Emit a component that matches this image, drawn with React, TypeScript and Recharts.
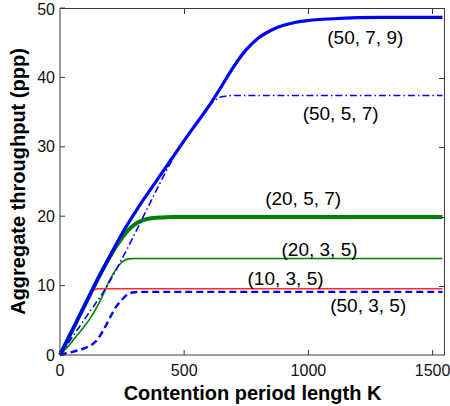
import { LineChart, Line, XAxis, YAxis, ReferenceDot } from "recharts";

// contention period length K (shared x grid for every curve)
const contentionK = [
  0, 25, 50, 75, 100, 125, 150, 175, 200, 225, 250, 275, 300, 325, 350, 400, 450,
  500, 550, 600, 650, 700, 750, 800, 850, 900, 950, 1000, 1100, 1200, 1300, 1400, 1540,
];

// aggregate throughput (ppp) per configuration
const tput50_7_9 = [
  0, 1.8, 3.6, 5.4, 7.2, 9.0, 10.8, 12.5, 14.2, 15.9, 17.5, 19.0, 20.4, 21.8, 23.1, 25.7, 28.3,
  30.9, 33.4, 35.9, 38.7, 41.6, 44.0, 45.7, 46.8, 47.5, 47.95, 48.2, 48.45, 48.6, 48.65, 48.65, 48.65,
];
const tput50_5_7 = [
  0, 1.3, 2.6, 3.9, 5.2, 6.5, 7.8, 9.1, 10.6, 12.2, 13.9, 15.6, 17.4, 19.2, 21.0, 24.6, 28.0,
  30.9, 33.4, 35.9, 37.2, 37.4, 37.4, 37.4, 37.4, 37.4, 37.4, 37.4, 37.4, 37.4, 37.4, 37.4, 37.4,
];
const tput20_5_7 = [
  0, 1.8, 3.6, 5.4, 7.2, 9.0, 10.8, 12.5, 14.1, 15.6, 16.9, 18.0, 18.8, 19.3, 19.6, 19.8, 19.9,
  19.9, 19.9, 19.9, 19.9, 19.9, 19.9, 19.9, 19.9, 19.9, 19.9, 19.9, 19.9, 19.9, 19.9, 19.9, 19.9,
];
const tput20_3_5 = [
  0, 0.95, 2.0, 3.1, 4.2, 5.5, 7.0, 8.8, 10.8, 12.3, 13.4, 13.85, 13.9, 13.9, 13.9, 13.9, 13.9,
  13.9, 13.9, 13.9, 13.9, 13.9, 13.9, 13.9, 13.9, 13.9, 13.9, 13.9, 13.9, 13.9, 13.9, 13.9, 13.9,
];
const tput10_3_5 = [
  0, 1.8, 3.6, 5.4, 7.2, 9.0, 9.55, 9.55, 9.55, 9.55, 9.55, 9.55, 9.55, 9.55, 9.55, 9.55, 9.55,
  9.55, 9.55, 9.55, 9.55, 9.55, 9.55, 9.55, 9.55, 9.55, 9.55, 9.55, 9.55, 9.55, 9.55, 9.55, 9.55,
];
const tput50_3_5 = [
  0, 0.25, 0.45, 0.7, 1.0, 1.4, 2.2, 3.6, 5.3, 6.9, 8.0, 8.8, 9.05, 9.1, 9.1, 9.1, 9.1,
  9.1, 9.1, 9.1, 9.1, 9.1, 9.1, 9.1, 9.1, 9.1, 9.1, 9.1, 9.1, 9.1, 9.1, 9.1, 9.1,
];

// curve annotations, anchored in data units
const curveLabels = ["(50, 7, 9)", "(50, 5, 7)", "(20, 5, 7)", "(20, 3, 5)", "(10, 3, 5)", "(50, 3, 5)"];
const curveLabelK = [1229, 1130, 979, 1045, 908, 1241];
const curveLabelY = [45.75, 34.9, 22.6, 15.2, 11.1, 7.1];

const xTicks = [0, 500, 1000, 1500];
const yTicks = [0, 10, 20, 30, 40, 50];
const X_MAX = 1550;
const Y_MAX = 50;

const FONT = '"Liberation Sans", Arial, Helvetica, sans-serif';
const AXIS = "#3a3a3a";

// plot box inside the 450x406 chart
const PLOT = { left: 60, top: 8, width: 385, height: 347 };

const rows = contentionK.map((k, i) => ({
  k,
  a: tput50_7_9[i],
  b: tput50_5_7[i],
  c: tput20_5_7[i],
  d: tput20_3_5[i],
  e: tput10_3_5[i],
  f: tput50_3_5[i],
}));

const YTitle = ({ viewBox }: any) => {
  const cx = 17.5;
  const cy = viewBox.y + viewBox.height / 2;
  return (
    <text
      x={cx}
      y={cy}
      transform={`rotate(-90, ${cx}, ${cy})`}
      textAnchor="middle"
      dominantBaseline="central"
      fontFamily={FONT}
      fontSize={20}
      fontWeight="bold"
      fill="#000"
    >
      Aggregate throughput (ppp)
    </text>
  );
};

const XTitle = ({ viewBox }: any) => (
  <text
    x={viewBox.x + viewBox.width / 2}
    y={viewBox.y + 44.5}
    textAnchor="middle"
    fontFamily={FONT}
    fontSize={20}
    fontWeight="bold"
    fill="#000"
  >
    Contention period length K
  </text>
);

// top and right sides of the matlab-style box, with inward ticks
const FrameOverlay = () => (
  <div
    style={{
      position: "absolute",
      left: PLOT.left,
      top: PLOT.top,
      width: PLOT.width,
      height: PLOT.height,
      boxSizing: "border-box",
      borderTop: `1px solid ${AXIS}`,
      borderRight: `1px solid ${AXIS}`,
      pointerEvents: "none",
    }}
  >
    {xTicks.slice(1).map((t) => (
      <div
        key={`tx${t}`}
        style={{ position: "absolute", left: (t / X_MAX) * PLOT.width - 0.5, top: 0, width: 1, height: 5, background: AXIS }}
      />
    ))}
    {yTicks.slice(1, -1).map((t) => (
      <div
        key={`ty${t}`}
        style={{ position: "absolute", right: 0, top: (1 - t / Y_MAX) * PLOT.height - 0.5, width: 5, height: 1, background: AXIS }}
      />
    ))}
  </div>
);

export default function App() {
  const tickFont = { fontSize: 16, fill: "#111", fontFamily: FONT };
  return (
    <div style={{ position: "absolute", left: 0, top: 0, width: 450, height: 406, background: "#fff" }}>
      <LineChart width={450} height={406} data={rows} margin={{ top: 8, right: 5, bottom: 0, left: 0 }}>
        {/* main axes: labels outside, tick marks pointing in (negative size) */}
        <XAxis
          dataKey="k"
          type="number"
          domain={[0, X_MAX]}
          ticks={xTicks}
          height={51}
          tickSize={-5}
          tickMargin={15}
          tickLine={{ stroke: AXIS }}
          axisLine={{ stroke: AXIS }}
          tick={tickFont}
          label={<XTitle />}
        />
        <YAxis
          type="number"
          domain={[0, Y_MAX]}
          ticks={yTicks}
          width={60}
          tickSize={-5}
          tickMargin={10}
          tickLine={{ stroke: AXIS }}
          axisLine={{ stroke: AXIS }}
          tick={tickFont}
          label={<YTitle />}
        />

        <Line type="monotone" dataKey="c" stroke="#008000" strokeWidth={4} dot={false} isAnimationActive={false} />
        <Line type="monotone" dataKey="d" stroke="#008000" strokeWidth={1.6} dot={false} isAnimationActive={false} />
        <Line type="monotone" dataKey="e" stroke="#ff2a2a" strokeWidth={1.5} dot={false} isAnimationActive={false} />
        <Line type="monotone" dataKey="f" stroke="#0000ff" strokeWidth={2.4} strokeDasharray="7 4" dot={false} isAnimationActive={false} />
        <Line type="monotone" dataKey="b" stroke="#0000ff" strokeWidth={1.6} strokeDasharray="7 3 1.5 3" dot={false} isAnimationActive={false} />
        <Line type="monotone" dataKey="a" stroke="#0000ff" strokeWidth={3.2} dot={false} isAnimationActive={false} />

        {curveLabels.map((txt, i) => (
          <ReferenceDot
            key={txt}
            x={curveLabelK[i]}
            y={curveLabelY[i]}
            r={0}
            fill="none"
            stroke="none"
            label={{ value: txt, position: "center", fontSize: 19, fill: "#000", fontFamily: FONT }}
          />
        ))}
      </LineChart>
      <FrameOverlay />
    </div>
  );
}
